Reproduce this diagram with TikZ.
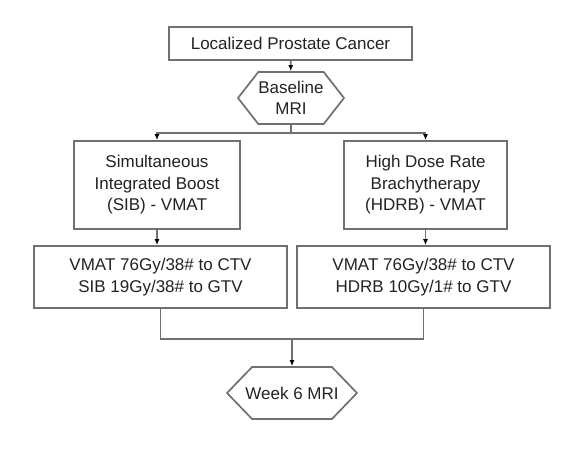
\documentclass[tikz,border=0pt]{standalone}
\usepackage{fontspec}
\setmainfont{Liberation Sans}
\usetikzlibrary{shapes.symbols, arrows.meta}
\definecolor{linegray}{RGB}{112,112,112}
\definecolor{textgray}{RGB}{34,34,34}
\begin{document}
\begin{tikzpicture}[x=1pt, y=-1pt, node distance=92pt, font=\fontsize{17}{21.5}\selectfont, text=textgray]
            % Define styles
            \tikzstyle{block} = [rectangle, draw=linegray, line width=1.7pt, align=center, inner sep=0pt]
            \tikzstyle{mri} = [signal, signal to=east and west, draw=linegray, line width=1.7pt, align=center, inner sep=0pt, minimum height=52pt]
            \tikzstyle{line} = [draw=linegray, line width=1.7pt]
            \tikzstyle{arrow} = [line, -{Latex[length=6pt, width=5pt, color=black]}]

            \useasboundingbox (0,0) rectangle (587,450);

            % Entry and baseline imaging
            \node (cancer) [block, minimum width=243pt, minimum height=33pt] at (290.5,43.5) {Localized Prostate Cancer};

            \node (baseline) [mri, node distance=54.5pt, below of=cancer, xshift=0.5pt, minimum width=106pt, signal pointer angle=104] {Baseline\\MRI};

            % Treatment arms
            \node (sib) [block, node distance=87pt, below of=baseline, xshift=-134pt, minimum width=166pt, minimum height=88pt] {Simultaneous\\Integrated Boost\\(SIB) - VMAT};

            \node (hdrb) [block, node distance=268.5pt, right of=sib, minimum width=163pt, minimum height=88pt] {High Dose Rate\\Brachytherapy\\(HDRB) - VMAT};

            % Dose schedules
            \node (sibdose) [block, below of=sib, xshift=3.5pt, minimum width=253pt, minimum height=62pt] {VMAT 76Gy/38\# to CTV\\SIB 19Gy/38\# to GTV};

            \node (hdrbdose) [block, node distance=263pt, right of=sibdose, minimum width=253pt, minimum height=62pt] {VMAT 76Gy/38\# to CTV\\HDRB 10Gy/1\# to GTV};

            % Follow-up imaging
            \node (week6) [mri, node distance=116pt, below of=sibdose, xshift=131.5pt, inner xsep=-8pt, minimum width=130pt, signal pointer angle=92] {Week 6 MRI};

            % Arrows
            \draw [arrow] (cancer) -- (baseline);
            \draw [line] (baseline.south) -- ++(0,8) coordinate (split);
            \draw [arrow] (split) -| (sib.north);
            \draw [arrow] (split) -| (hdrb.north);
            \draw [arrow] (sib.south) -- (sib.south |- sibdose.north);
            \draw [arrow] (hdrb.south) -- (hdrb.south |- hdrbdose.north);
            \draw [line] (sibdose.south) -- ++(0,30) coordinate (join) -| (hdrbdose.south);
            \draw [arrow] (join -| week6.north) -- (week6.north);

      \end{tikzpicture}
\end{document}
